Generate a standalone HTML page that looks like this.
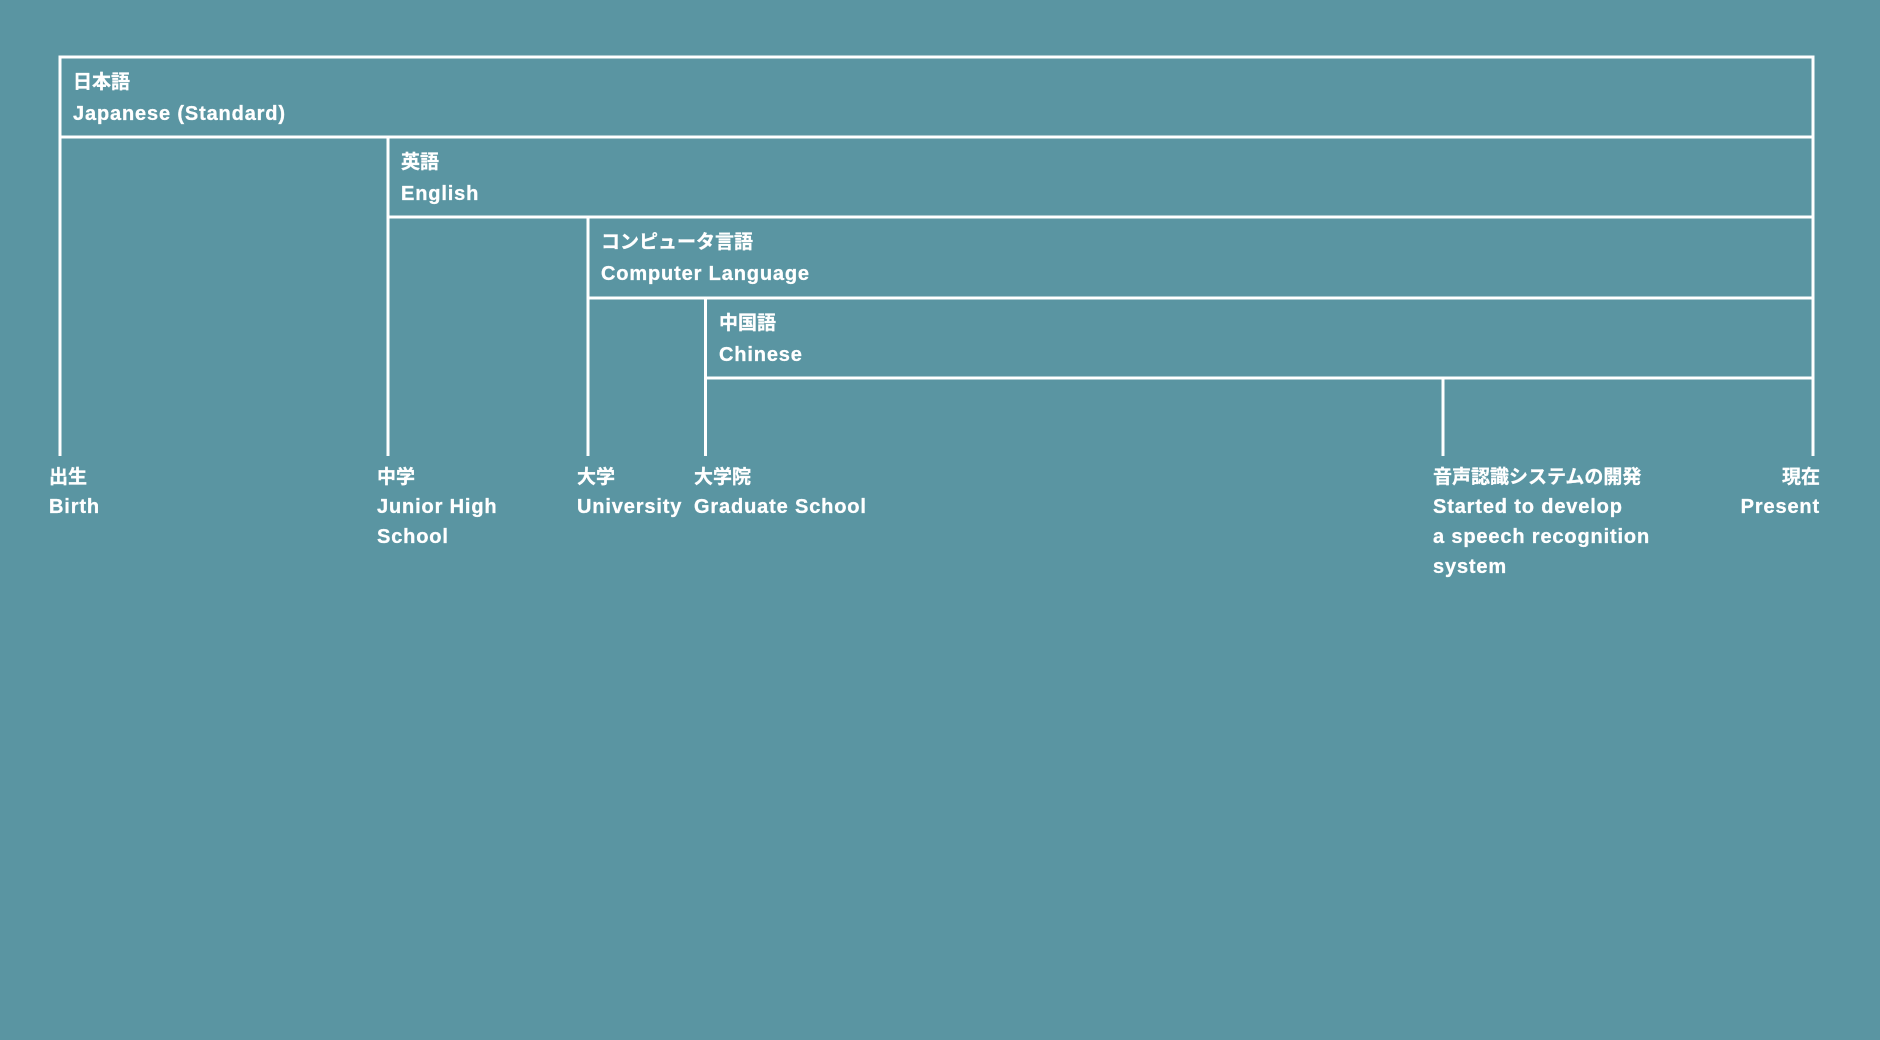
<!DOCTYPE html>
<html><head><meta charset="utf-8"><style>
html,body{margin:0;padding:0;background:#5a95a2;}
svg{display:block}
text{font-family:"Liberation Sans","Noto Sans CJK JP",sans-serif;font-weight:bold;font-size:20px;fill:#fff;letter-spacing:0.85px;stroke:#fff;stroke-width:0.3px}
.j{font-size:19px;letter-spacing:0}
</style></head><body>
<svg width="1880" height="1040" viewBox="0 0 1880 1040" xmlns="http://www.w3.org/2000/svg">
<rect width="1880" height="1040" fill="#5a95a2"/>
<g stroke="#fff" stroke-width="3" fill="none">
<polyline points="60,456 60,57 1813,57 1813,456"/>
<line x1="60" y1="137" x2="1813" y2="137"/>
<line x1="388" y1="137" x2="388" y2="456"/>
<line x1="388" y1="217" x2="1813" y2="217"/>
<line x1="588" y1="217" x2="588" y2="456"/>
<line x1="588" y1="298" x2="1813" y2="298"/>
<line x1="705.5" y1="298" x2="705.5" y2="456"/>
<line x1="705.5" y1="378" x2="1813" y2="378"/>
<line x1="1443" y1="378" x2="1443" y2="456"/>
</g>
<text class="j" x="73" y="88">日本語</text>
<text x="73" y="120">Japanese (Standard)</text>
<text class="j" x="401" y="168">英語</text>
<text x="401" y="200">English</text>
<text class="j" x="601" y="248">コンピュータ言語</text>
<text x="601" y="280">Computer Language</text>
<text class="j" x="719" y="329">中国語</text>
<text x="719" y="361">Chinese</text>

<text class="j" x="49" y="483">出生</text>
<text x="49" y="513">Birth</text>
<text class="j" x="377" y="483">中学</text>
<text x="377" y="513">Junior High</text>
<text x="377" y="543">School</text>
<text class="j" x="577" y="483">大学</text>
<text x="577" y="513">University</text>
<text class="j" x="694" y="483">大学院</text>
<text x="694" y="513">Graduate School</text>
<text class="j" x="1433" y="483">音声認識システムの開発</text>
<text x="1433" y="513">Started to develop</text>
<text x="1433" y="543">a speech recognition</text>
<text x="1433" y="573">system</text>
<text class="j" x="1820" y="483" text-anchor="end">現在</text>
<text x="1820" y="513" text-anchor="end">Present</text>
</svg>
</body></html>
